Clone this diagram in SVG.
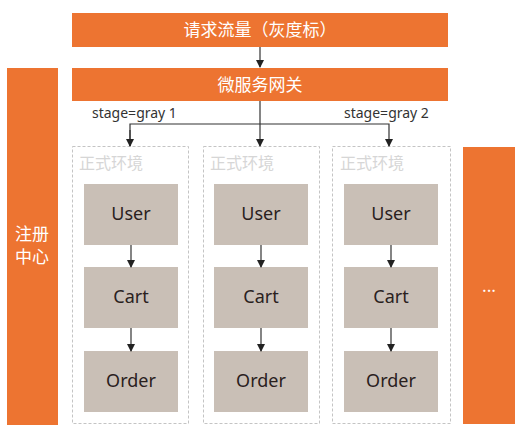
<svg xmlns="http://www.w3.org/2000/svg" width="525" height="436" viewBox="0 0 525 436">
<defs>
<style>
.bar{fill:#ED7431}
.wt{fill:#ffffff;font-family:"Noto Sans CJK SC","Noto Sans",sans-serif;font-size:17px;text-anchor:middle}
.env{fill:none;stroke:#c4c4c4;stroke-width:1;stroke-dasharray:3,2}
.envt{fill:#d6d6d6;font-family:"Noto Sans CJK SC",sans-serif;font-size:16px}
.svc{fill:#C9BFB6}
.st{fill:#2a211e;font-family:"Noto Sans","Open Sans",sans-serif;font-size:18px;text-anchor:middle}
.lbl{fill:#333;font-family:"Noto Sans","Open Sans",sans-serif;font-size:14px}
.ln{fill:none;stroke:#333;stroke-width:1.2}
</style>
<marker id="ah" markerWidth="8" markerHeight="8" refX="7" refY="4" orient="auto" markerUnits="userSpaceOnUse">
<path d="M0,0 L8,4 L0,8 Z" fill="#222"/>
</marker>
</defs>
<rect width="525" height="436" fill="#ffffff"/>

<g id="request">
<rect class="bar" x="72" y="13" width="376" height="34"/>
<text class="wt" x="260" y="36">请求流量（灰度标）</text>
</g>
<g id="gateway">
<rect class="bar" x="72" y="68" width="376" height="33"/>
<text class="wt" x="260" y="91">微服务网关</text>
</g>
<g id="registry">
<rect class="bar" x="7" y="68" width="51" height="357"/>
<text class="wt" x="32" y="240">注册</text>
<text class="wt" x="32" y="263">中心</text>
</g>
<g id="more">
<rect class="bar" x="463" y="147" width="52" height="277"/>
<text class="wt" x="489" y="292" font-size="14">...</text>
</g>

<g id="env1">
<rect class="env" x="72.5" y="146.5" width="116" height="277"/>
<text class="envt" x="79" y="169">正式环境</text>
</g>
<g id="env2">
<rect class="env" x="203.5" y="146.5" width="116" height="277"/>
<text class="envt" x="210" y="169">正式环境</text>
</g>
<g id="env3">
<rect class="env" x="332.5" y="146.5" width="118" height="277"/>
<text class="envt" x="340" y="169">正式环境</text>
</g>

<g id="user1"><rect class="svc" x="84" y="184" width="94" height="61"/><text class="st" x="131" y="220">User</text></g>
<g id="cart1"><rect class="svc" x="84" y="267" width="94" height="61"/><text class="st" x="131" y="303">Cart</text></g>
<g id="order1"><rect class="svc" x="84" y="351" width="94" height="61"/><text class="st" x="131" y="387">Order</text></g>

<g id="user2"><rect class="svc" x="214" y="184" width="94" height="61"/><text class="st" x="261" y="220">User</text></g>
<g id="cart2"><rect class="svc" x="214" y="267" width="94" height="61"/><text class="st" x="261" y="303">Cart</text></g>
<g id="order2"><rect class="svc" x="214" y="351" width="94" height="61"/><text class="st" x="261" y="387">Order</text></g>

<g id="user3"><rect class="svc" x="344" y="184" width="94" height="61"/><text class="st" x="391" y="220">User</text></g>
<g id="cart3"><rect class="svc" x="344" y="267" width="94" height="61"/><text class="st" x="391" y="303">Cart</text></g>
<g id="order3"><rect class="svc" x="344" y="351" width="94" height="61"/><text class="st" x="391" y="387">Order</text></g>

<g id="connectors">
<line class="ln" x1="260" y1="47" x2="260" y2="67" marker-end="url(#ah)"/>
<line class="ln" x1="260" y1="101" x2="260" y2="146" marker-end="url(#ah)"/>
<polyline class="ln" points="130,146 130,124 389,124 389,146" marker-end="url(#ah)"/>
<line class="ln" x1="130" y1="130" x2="130" y2="146" marker-end="url(#ah)"/>
<line class="ln" x1="131" y1="245" x2="131" y2="267" marker-end="url(#ah)"/>
<line class="ln" x1="131" y1="328" x2="131" y2="351" marker-end="url(#ah)"/>
<line class="ln" x1="261" y1="245" x2="261" y2="267" marker-end="url(#ah)"/>
<line class="ln" x1="261" y1="328" x2="261" y2="351" marker-end="url(#ah)"/>
<line class="ln" x1="391" y1="245" x2="391" y2="267" marker-end="url(#ah)"/>
<line class="ln" x1="391" y1="328" x2="391" y2="351" marker-end="url(#ah)"/>
<text class="lbl" x="92" y="118">stage=gray 1</text>
<text class="lbl" x="344" y="118">stage=gray 2</text>
</g>
</svg>
